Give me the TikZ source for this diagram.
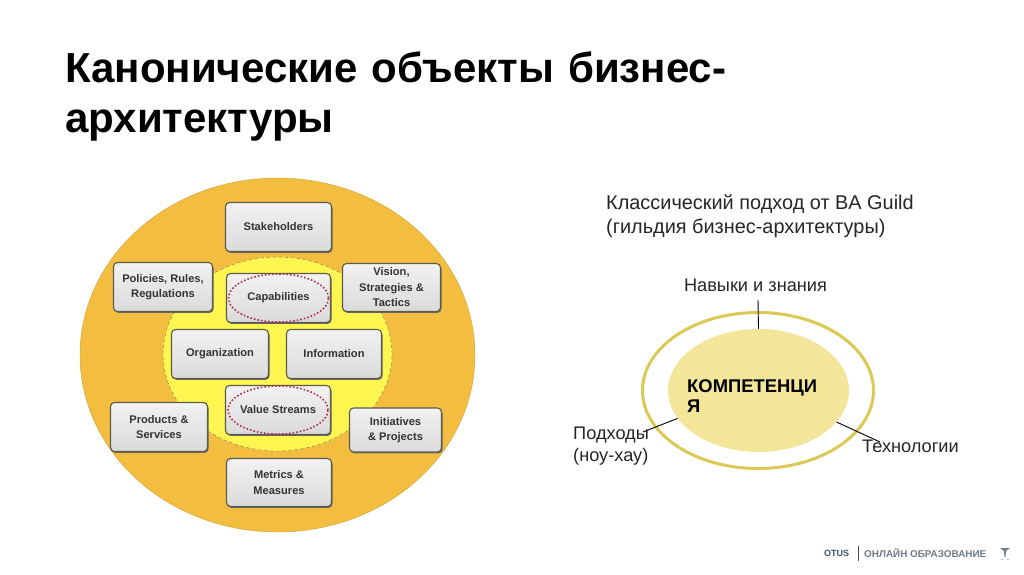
\documentclass[tikz,border=0pt]{standalone}
\usepackage{fontspec}
\setmainfont{Liberation Sans}
\usetikzlibrary{arrows.meta, positioning, shapes.geometric, shadows}
\definecolor{oranzhKrug}{RGB}{243,189,64}
\definecolor{zheltKrug}{RGB}{253,246,80}
\definecolor{ramkaBox}{RGB}{92,92,72}
\definecolor{serTop}{RGB}{242,242,242}
\definecolor{serBot}{RGB}{218,218,218}
\definecolor{krasnOval}{RGB}{176,48,80}
\definecolor{yadroKomp}{RGB}{243,230,155}
\definecolor{kolcoKomp}{RGB}{220,200,85}
\definecolor{seryFooter}{RGB}{112,124,136}
\definecolor{sinFooter}{RGB}{62,84,106}

\begin{document}
\begin{tikzpicture}[
    x=1pt, y=-1pt,
    titletext/.style={anchor=north west, inner sep=0pt, align=left, text width=700pt, font=\fontsize{42}{50}\selectfont\bfseries, text=black},
    bodytext/.style={inner sep=0pt, align=left, font=\fontsize{18.2}{22}\selectfont, text=black!85},
    areabox/.style={draw=ramkaBox, line width=1.1pt, top color=serTop, bottom color=serBot, rounded corners=4pt, align=center, inner sep=0pt, font=\fontsize{11.1}{15.5}\selectfont\bfseries, text=black!80, general shadow={shadow xshift=1pt, shadow yshift=-1.4pt, fill=black!60, rounded corners=4pt}},
    dotoval/.style={ellipse, draw=krasnOval, line width=1.6pt, dotted, minimum width=100pt, minimum height=48pt, inner sep=0pt},
    leader/.style={draw=black, line width=0.9pt}
]
    \useasboundingbox (0,0) rectangle (1024,574);
    \fill[white] (0,0) rectangle (1024,574);

    \node[titletext] (title) at (65,51.5) {Канонические объекты бизнес-\\архитектуры};

    % left picture
    \node[ellipse, draw=oranzhKrug!85!black, fill=oranzhKrug, minimum width=395pt, minimum height=354pt] (outerRing) at (277.5,355) {};
    \node[ellipse, draw=black!55, dashed, fill=zheltKrug, minimum width=229pt, minimum height=194pt] (innerRing) at (277.5,354) {};

    \node[areabox, minimum width=106pt, minimum height=49pt] (stakeholders) at (278.5,227) {Stakeholders};
    \node[areabox, minimum width=99pt, minimum height=49pt] (policies) at (163,287) {Policies, Rules,\\Regulations};
    \node[areabox, minimum width=98pt, minimum height=48pt] (vision) at (391.5,287.5) {Vision,\\Strategies \&\\Tactics};
    \node[areabox, minimum width=104pt, minimum height=49pt] (capabilities) at (278.5,298) {Capabilities};
    \node[areabox, minimum width=97pt, minimum height=49pt] (organization) at (220,354) {Organization};
    \node[areabox, minimum width=95pt, minimum height=49pt] (information) at (334,354) {Information};
    \node[areabox, minimum width=105pt, minimum height=49pt] (valuestreams) at (278,410) {Value Streams};
    \node[areabox, minimum width=97pt, minimum height=49pt] (products) at (159,427) {Products \&\\Services};
    \node[areabox, minimum width=92pt, minimum height=44pt] (initiatives) at (395.5,430) {Initiatives\\\& Projects};
    \node[areabox, minimum width=105pt, minimum height=48pt] (metrics) at (279,482.5) {Metrics \&\\Measures};

    \node[dotoval] (capOval) at (capabilities) {};
    \node[dotoval] (valueOval) at (valuestreams) {};

    % right picture
    \node[bodytext, anchor=north west, font=\fontsize{19.9}{23.3}\selectfont] (guild) at (606,195) {Классический подход от BA Guild\\(гильдия бизнес-архитектуры)};

    \node[ellipse, draw=kolcoKomp, line width=3pt, minimum width=231pt, minimum height=156pt] (ring) at (758,390.5) {};
    \node[ellipse, fill=yadroKomp, minimum width=181pt, minimum height=123pt] (comp) at (758.5,390.5) {};
    \node[inner sep=0pt, align=left, anchor=north west, font=\fontsize{18.4}{20.7}\selectfont\bfseries] (compText) at (687,379) {КОМПЕТЕНЦИ\\Я};

    \node[bodytext, anchor=base] (skills) at (755.5,291) {Навыки и знания};
    \node[bodytext, anchor=north west] (approaches) at (573,427) {Подходы\\(ноу-хау)};
    \node[bodytext, anchor=base west] (tech) at (862,452) {Технологии};

    \coordinate (skillsEnd) at (758,300);
    \coordinate (approachesEnd) at (643,432);
    \coordinate (techEnd) at (880,442);
    \draw[leader] (skillsEnd) -- (comp.north);
    \draw[leader] (approachesEnd) -- (comp.199);
    \draw[leader] (techEnd) -- (comp.-22);

    % footer
    \node[inner sep=0pt, anchor=west, text=sinFooter, font=\fontsize{9}{11}\selectfont\bfseries] (otus) at (824,553.5) {OTUS};
    \node[inner sep=0pt, anchor=west, text=seryFooter, font=\fontsize{9.9}{11}\selectfont\bfseries] (online) at (864,553.5) {ОНЛАЙН ОБРАЗОВАНИЕ};
    \draw[sinFooter, line width=1pt] (858,546) -- (858,561);
    \fill[seryFooter] (1000,548) -- (1010,548) -- (1006,551) -- (1005.5,557) -- (1004.5,557) -- (1004,551) -- cycle;
    \fill[seryFooter] (1002,559.5) circle (0.7) (1008,559.5) circle (0.7);
\end{tikzpicture}
\end{document}
